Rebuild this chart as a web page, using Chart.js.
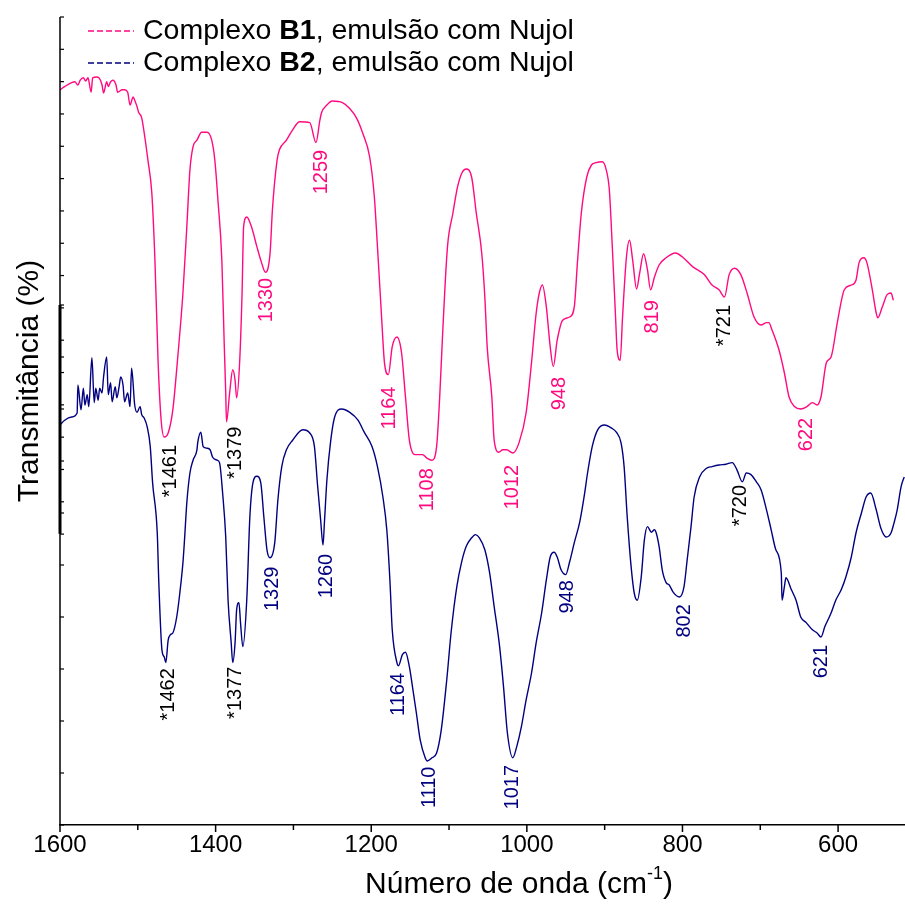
<!DOCTYPE html>
<html>
<head>
<meta charset="utf-8">
<script src="https://cdn.jsdelivr.net/npm/chart.js@4.4.1/dist/chart.umd.min.js"></script>
<style>
  html,body{margin:0;padding:0;background:#fff}
  #wrap{width:905px;height:904px}
</style>
</head>
<body>
<div id="wrap"><canvas id="chart" width="905" height="904"></canvas></div>
<script>
// wavenumber (cm-1) and transmittance (arbitrary %, 0 = bottom of frame)
const wnB1 = [1600,1594,1585,1581,1577,1574,1570,1567,1564,1560,1558,1553,1550,1546,1544,1540,1538,1535,1532,1528,
  1526,1520,1517,1513,1510,1506,1504,1501,1499,1495,1491,1487,1482,1478,1474,1470,1466,1461,1455,1449,
  1442,1437,1433,1429,1424,1418,1411,1405,1401,1397,1392,1389,1387,1386,1382,1378,1375,1373,1369,1366,
  1364,1360,1354,1347,1341,1336,1330,1327,1321,1318,1309,1301,1292,1279,1271,1266,1264,1257,1250,1237,
  1228,1219,1211,1202,1196,1192,1187,1183,1178,1173,1167,1161,1156,1151,1144,1134,1129,1122,1116,1112,
  1108,1102,1095,1089,1083,1078,1071,1065,1058,1054,1051,1045,1042,1036,1031,1026,1018,1010,1001,994,
  988,984,980,975,970,966,961,954,945,939,935,930,923,917,911,903,898,894,890,886,
  884,880,877,872,868,864,859,855,850,845,841,836,830,821,809,800,787,772,762,753,
  746,740,733,725,717,708,699,692,689,685,676,669,663,656,648,640,633,627,622,615,
  609,601,592,583,577,573,567,563,556,551,549,543,537,532,529];
const tB1 = [91.9,92.3,92.8,92.9,92.5,93.1,93.4,93.0,93.4,91.6,93.4,93.5,93.4,92.5,91.5,92.9,92.3,92.9,93.1,92.5,
  91.6,91.9,91.9,91.6,90.0,91.0,90.6,89.8,89.1,88.4,86.0,83.1,79.0,70.6,58.1,50.6,48.5,49.0,51.9,58.1,
  66.5,74.8,81.9,84.8,85.6,86.6,86.6,85.6,83.1,78.1,70.6,60.3,54.0,50.4,54.0,56.9,55.6,53.4,58.1,66.5,
  74.8,76.0,74.8,72.3,70.3,69.1,71.5,76.9,83.1,84.4,85.6,86.9,87.9,87.8,85.3,88.1,89.0,90.0,90.5,90.3,
  89.6,88.4,86.5,83.5,78.5,72.3,64.0,57.8,56.3,59.8,61.0,59.0,53.5,48.1,46.3,46.3,45.9,45.6,47.3,53.5,
  61.9,72.3,76.5,79.8,81.6,82.0,81.0,76.5,71.5,66.0,59.8,53.5,48.1,46.6,46.9,46.9,46.5,47.8,51.5,57.8,
  64.0,66.5,67.5,64.8,59.8,57.3,60.6,63.1,63.5,64.8,70.3,76.5,81.0,82.5,82.8,82.9,81.9,79.4,71.9,63.5,
  59.4,58.1,63.5,71.0,73.1,70.6,67.0,69.0,71.4,69.4,66.9,68.5,70.0,70.9,71.5,71.0,69.8,68.8,67.5,66.9,
  66.0,68.8,69.6,68.8,66.5,63.5,62.5,62.8,62.8,61.9,59.4,56.5,53.5,52.3,52.0,52.3,52.8,52.5,53.5,57.8,
  58.5,62.8,66.9,67.5,68.1,70.3,70.9,70.3,66.9,64.0,63.4,64.8,66.3,66.5,65.6];

const wnB2 = [1600,1594,1585,1578,1577,1573,1570,1568,1565,1563,1559,1556,1554,1551,1549,1546,1544,1540,1538,1535,
  1533,1529,1527,1524,1522,1519,1517,1513,1510,1508,1504,1501,1497,1495,1492,1488,1484,1481,1475,1473,
  1469,1466,1464,1461,1458,1455,1450,1446,1442,1440,1437,1433,1429,1424,1423,1419,1416,1411,1407,1404,
  1398,1395,1391,1387,1384,1380,1378,1375,1373,1370,1368,1365,1360,1356,1352,1347,1342,1338,1334,1330,
  1324,1320,1315,1309,1301,1288,1279,1273,1269,1265,1262,1260,1257,1252,1247,1238,1228,1217,1209,1199,
  1192,1185,1180,1176,1173,1167,1165,1160,1156,1151,1147,1142,1137,1131,1128,1122,1116,1110,1103,1097,
  1090,1084,1078,1071,1066,1061,1054,1048,1042,1035,1030,1025,1018,1013,1007,1001,994,988,981,975,
  970,965,961,956,950,945,939,932,926,922,916,909,900,891,885,879,875,871,866,862,
  858,853,849,845,840,836,834,830,826,821,817,812,804,798,794,789,785,778,769,762,
  753,744,736,730,723,718,712,705,699,692,686,680,673,672,669,667,660,654,648,641,
  633,627,622,617,609,603,596,590,583,577,570,564,558,551,545,538,532,528,524,519,515];
const tB2 = [50.0,50.6,51.0,51.5,55.0,51.9,54.6,52.5,53.8,52.3,58.4,52.8,54.6,53.1,54.6,54.0,56.0,58.5,53.8,55.3,
  52.9,54.8,53.4,54.8,56.0,55.0,52.9,54.0,52.3,57.1,52.5,51.6,52.3,51.3,50.9,49.8,47.3,42.8,36.5,30.3,
  21.9,21.0,20.3,23.1,23.8,24.0,26.0,29.0,32.8,35.6,40.3,44.0,45.6,46.9,47.8,49.1,47.3,47.1,46.9,46.0,
  45.6,45.3,41.5,36.0,28.1,22.8,20.3,22.8,26.9,27.8,25.3,22.3,28.1,38.5,42.8,43.6,42.8,38.5,34.4,33.4,
  35.3,40.6,44.8,46.9,48.1,49.4,49.0,47.3,42.5,38.1,35.0,38.1,43.1,48.1,51.0,52.0,51.6,50.6,49.1,47.3,
  44.8,41.0,36.9,30.6,24.4,20.3,19.9,21.3,21.6,19.8,17.3,14.0,10.6,8.5,8.0,8.4,9.0,11.9,18.1,24.4,
  29.8,32.8,34.8,35.9,36.3,35.9,34.4,31.6,27.3,22.3,17.3,11.5,8.4,9.8,12.3,15.6,19.0,22.8,26.5,30.6,
  33.5,34.1,33.5,31.9,31.3,32.9,35.3,37.9,41.3,44.0,47.3,49.4,50.0,49.6,49.1,47.8,44.8,38.5,32.3,29.0,
  28.1,31.0,35.6,37.3,36.6,36.9,36.6,34.8,31.9,30.3,30.0,29.1,28.5,29.8,33.1,37.3,41.0,43.5,44.6,44.8,
  45.0,45.1,45.3,44.4,42.9,44.0,43.8,42.9,41.9,39.4,36.9,34.4,31.5,28.1,29.8,30.9,29.4,28.1,26.0,25.3,
  24.4,24.0,23.5,24.8,26.5,28.1,29.4,31.0,33.5,36.5,39.0,41.0,41.5,39.4,37.1,36.0,36.5,37.8,39.4,42.3,43.5];

const xTickLabels = [1600, 1400, 1200, 1000, 800, 600];
const xMinorTicks = [1500, 1300, 1100, 900, 700];

// peak labels: text, wavenumber, top of text (transmittance), which series
const peakText = ['1259','1330','1164','1108','1012','948','819','622',
  '*1461','*1379','*1462','*1377','*721','*720',
  '1329','1260','1164','1110','1017','948','802','621'];
const peakWn = [1264,1334,1176,1128,1018,958,839,641, 1458,1374,1461,1375,746,725, 1327,1257,1165,1125,1018,948,798,621];
const peakT = [84.4,68.4,54.8,44.6,45.0,56.0,65.6,50.9, 47.5,49.8,19.6,19.8,65.0,42.5, 32.3,33.9,19.0,7.3,7.5,30.6,27.6,22.5];
const peakSet = ['B1','B1','B1','B1','B1','B1','B1','B1','N','N','N','N','N','N','B2','B2','B2','B2','B2','B2','B2','B2'];

const colB1 = '#ff0a80', colB2 = '#000080';
const colors = {B1: colB1, B2: colB2, N: '#000'};
const FONT = '"Liberation Sans", Arial, sans-serif';

const pts = (xs, ys) => xs.map((x, i) => ({x, y: ys[i]}));

const decor = {
  id: 'decor',
  afterDraw(chart){
    const {ctx, chartArea: a, scales: {x, y}} = chart;
    ctx.save();
    ctx.strokeStyle = '#000';
    // left axis (two stacked frames overlap in the middle)
    ctx.lineWidth = 1.5;
    ctx.beginPath(); ctx.moveTo(a.left, a.top); ctx.lineTo(a.left, a.bottom); ctx.stroke();
    ctx.lineWidth = 3;
    ctx.beginPath(); ctx.moveTo(a.left, y.getPixelForValue(65)); ctx.lineTo(a.left, y.getPixelForValue(36.4)); ctx.stroke();
    ctx.lineWidth = 1.2;
    for (let k = 0; k <= 16; k++){ const py = y.getPixelForValue(101 - k*4.04); ctx.beginPath(); ctx.moveTo(a.left, py); ctx.lineTo(a.left+4, py); ctx.stroke(); }
    for (let k = 0; k <= 10; k++){ const py = y.getPixelForValue(k*6.5); ctx.beginPath(); ctx.moveTo(a.left, py); ctx.lineTo(a.left+4, py); ctx.stroke(); }
    // bottom ticks
    ctx.lineWidth = 1.5;
    xTickLabels.forEach(v => { const px = x.getPixelForValue(v); ctx.beginPath(); ctx.moveTo(px, a.bottom); ctx.lineTo(px, a.bottom+7); ctx.stroke(); });
    xMinorTicks.forEach(v => { const px = x.getPixelForValue(v); ctx.beginPath(); ctx.moveTo(px, a.bottom); ctx.lineTo(px, a.bottom+5); ctx.stroke(); });

    // axis titles
    ctx.fillStyle = '#000';
    ctx.textBaseline = 'middle';
    ctx.font = '30px ' + FONT;
    const t1 = 'Número de onda (cm', t2 = '-1', t3 = ')';
    const w1 = ctx.measureText(t1).width, w3 = ctx.measureText(t3).width;
    ctx.font = '18px ' + FONT; const w2 = ctx.measureText(t2).width;
    let sx = 519 - (w1 + w2 + w3)/2;
    ctx.font = '30px ' + FONT; ctx.textAlign = 'left';
    ctx.fillText(t1, sx, 885);
    ctx.font = '18px ' + FONT; ctx.fillText(t2, sx + w1, 874);
    ctx.font = '30px ' + FONT; ctx.fillText(t3, sx + w1 + w2, 885);

    ctx.save();
    ctx.translate(30, 381); ctx.rotate(-Math.PI/2);
    ctx.textAlign = 'center'; ctx.font = '30px ' + FONT;
    ctx.fillText('Transmitância (%)', 0, 0);
    ctx.restore();

    // legend
    [['B1', colB1, 31], ['B2', colB2, 63]].forEach(([name, col, ly]) => {
      ctx.strokeStyle = col; ctx.lineWidth = 1.5; ctx.setLineDash([6, 3]);
      ctx.beginPath(); ctx.moveTo(88, ly); ctx.lineTo(134, ly); ctx.stroke();
      ctx.setLineDash([]);
      ctx.fillStyle = '#000'; ctx.textAlign = 'left';
      let lx = 143;
      ctx.font = '28.5px ' + FONT; ctx.fillText('Complexo ', lx, ly); lx += ctx.measureText('Complexo ').width;
      ctx.font = 'bold 28.5px ' + FONT; ctx.fillText(name, lx, ly); lx += ctx.measureText(name).width;
      ctx.font = '28.5px ' + FONT; ctx.fillText(', emulsão com Nujol', lx, ly);
    });

    // peak labels
    ctx.font = '20px ' + FONT;
    peakText.forEach((s, i) => {
      ctx.save();
      ctx.translate(x.getPixelForValue(peakWn[i]), y.getPixelForValue(peakT[i]));
      ctx.rotate(-Math.PI/2);
      ctx.fillStyle = colors[peakSet[i]];
      ctx.textAlign = 'right'; ctx.textBaseline = 'middle';
      ctx.fillText(s, 0, 0);
      ctx.restore();
    });
    ctx.restore();
  }
};

new Chart(document.getElementById('chart'), {
  type: 'line',
  data: {
    datasets: [
      {label: 'Complexo B1, emulsão com Nujol', data: pts(wnB1, tB1), borderColor: colB1},
      {label: 'Complexo B2, emulsão com Nujol', data: pts(wnB2, tB2), borderColor: colB2}
    ]
  },
  options: {
    responsive: false, animation: false, devicePixelRatio: 1,
    layout: {padding: {top: 17, right: 0, left: 0, bottom: 0}},
    elements: {line: {borderWidth: 1.4, cubicInterpolationMode: 'monotone'}, point: {radius: 0}},
    plugins: {legend: {display: false}, tooltip: {enabled: false}},
    scales: {
      x: {
        type: 'linear', reverse: true, min: 514, max: 1600,
        afterBuildTicks: s => { s.ticks = xTickLabels.map(v => ({value: v})); },
        afterFit: s => { s.height = 79; },
        grid: {display: false, drawTicks: false},
        border: {display: true, color: '#000', width: 1.5},
        ticks: {color: '#000', font: {family: FONT, size: 24}, padding: 6, maxRotation: 0, autoSkip: false,
          callback: v => String(v)}
      },
      y: {
        min: 0, max: 101,
        afterFit: s => { s.width = 60; },
        grid: {display: false, drawTicks: false},
        border: {display: false},
        ticks: {display: false}
      }
    }
  },
  plugins: [decor]
});
</script>
</body>
</html>
